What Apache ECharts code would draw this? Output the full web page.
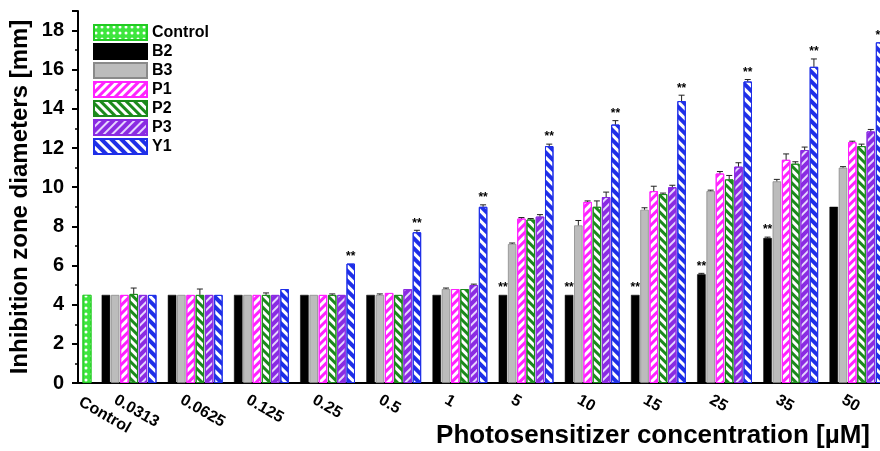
<!DOCTYPE html>
<html>
<head>
<meta charset="utf-8">
<script src="https://cdn.jsdelivr.net/npm/echarts@6/dist/echarts.min.js"></script>
<style>
html, body { margin: 0; padding: 0; background: #fff; }
#chart { width: 880px; height: 451px; }
</style>
</head>
<body>
<div id="chart"></div>
<script>
// concentrations (uM) of the treated groups; Control has its own tiny axis
var concentrations = ['0.0313', '0.0625', '0.125', '0.25', '0.5', '1', '5', '10', '15', '25', '35', '50'];
var controlLabel = ['Control'];
var controlValue = [4.5];

var b2 = [4.5, 4.5, 4.5, 4.5, 4.5, 4.5, 4.5, 4.5, 4.5, 5.55, 7.4, 9.0];
var b3 = [4.5, 4.5, 4.5, 4.5, 4.5, 4.8, 7.1, 8.05, 8.85, 9.8, 10.3, 11.0];
var p1 = [4.5, 4.5, 4.5, 4.5, 4.6, 4.8, 8.4, 9.25, 9.8, 10.7, 11.4, 12.3];
var p2 = [4.55, 4.5, 4.5, 4.5, 4.5, 4.8, 8.35, 9.0, 9.65, 10.4, 11.2, 12.1];
var p3 = [4.5, 4.5, 4.5, 4.5, 4.8, 5.0, 8.5, 9.5, 10.0, 11.05, 11.9, 12.85];
var y1 = [4.5, 4.5, 4.8, 6.1, 7.7, 9.0, 12.1, 13.2, 14.4, 15.4, 16.15, 17.4];

// standard deviations
var b2Err = [0, 0, 0, 0, 0, 0, 0, 0, 0, 0.05, 0.05, 0];
var b3Err = [0, 0, 0, 0, 0.05, 0.05, 0.05, 0.25, 0.1, 0.05, 0.1, 0.05];
var p1Err = [0, 0, 0, 0, 0, 0, 0.05, 0.05, 0.25, 0.1, 0.3, 0.05];
var p2Err = [0.3, 0.3, 0.1, 0.05, 0, 0, 0.05, 0.3, 0.05, 0.2, 0.1, 0.1];
var p3Err = [0, 0, 0, 0, 0, 0.05, 0.1, 0.25, 0.1, 0.2, 0.15, 0.1];
var y1Err = [0, 0, 0, 0, 0.1, 0.1, 0.1, 0.2, 0.3, 0.1, 0.4, 0];

// significance marks (indices into concentrations)
var b2Stars = [6, 7, 8, 9, 10];
var y1Stars = [3, 4, 5, 6, 7, 8, 9, 10, 11];

var FONT = 'Liberation Sans, Arial, sans-serif';
var BAR_W = 8.5, BAR_GAP = 0.09;
var PITCH = BAR_W * (1 + BAR_GAP);
var PX_PER_UNIT = 19.56;

var groups = [
    { name: 'B2', values: b2, err: b2Err, stars: b2Stars,
      style: { color: '#000', borderColor: '#000', borderWidth: 0.5 } },
    { name: 'B3', values: b3, err: b3Err, stars: [],
      style: { color: '#bcbcbc', borderColor: '#8a8a8a', borderWidth: 0.8 } },
    { name: 'P1', values: p1, err: p1Err, stars: [],
      style: { color: '#fff', borderColor: '#ff22ff', borderWidth: 1,
               decal: { symbol: 'rect', color: '#ff22ff', dashArrayX: [1, 0], dashArrayY: [3, 3], rotation: -Math.PI / 4 } } },
    { name: 'P2', values: p2, err: p2Err, stars: [],
      style: { color: '#fff', borderColor: '#1c8a1c', borderWidth: 1,
               decal: { symbol: 'rect', color: '#1c8a1c', dashArrayX: [1, 0], dashArrayY: [3, 3], rotation: Math.PI / 4 } } },
    { name: 'P3', values: p3, err: p3Err, stars: [],
      style: { color: '#e6d6ff', borderColor: '#8a2be2', borderWidth: 1,
               decal: { symbol: 'rect', color: '#8a2be2', dashArrayX: [1, 0], dashArrayY: [4, 2], rotation: -Math.PI / 4 } } },
    { name: 'Y1', values: y1, err: y1Err, stars: y1Stars,
      style: { color: '#fff', borderColor: '#1f2fe8', borderWidth: 1,
               decal: { symbol: 'rect', color: '#1f2fe8', dashArrayX: [1, 0], dashArrayY: [3.5, 2.5], rotation: Math.PI / 4 } } }
];

var chart = echarts.init(document.getElementById('chart'));

var series = [{
    name: 'Control',
    type: 'bar',
    xAxisIndex: 0,
    yAxisIndex: 0,
    barWidth: 9,
    data: controlValue,
    itemStyle: {
        color: '#3ee63e',
        borderColor: '#22cc22',
        borderWidth: 0.8,
        decal: { symbol: 'circle', color: '#ffffff', symbolSize: 0.75, dashArrayX: [4, 1.5], dashArrayY: [4, 1.5] }
    }
}];

var errData = [];
groups.forEach(function (g, s) {
    var data = g.values.map(function (v, i) {
        if (g.err[i] > 0) errData.push([i, s, v, g.err[i]]);
        if (g.stars.indexOf(i) > -1) {
            return {
                value: v,
                label: {
                    show: true, position: 'top', formatter: '**',
                    distance: 1 + g.err[i] * PX_PER_UNIT,
                    color: '#000', fontSize: 12, fontWeight: 'bold', fontFamily: FONT
                }
            };
        }
        return v;
    });
    series.push({
        name: g.name,
        type: 'bar',
        xAxisIndex: 1,
        yAxisIndex: 1,
        barWidth: BAR_W,
        barGap: (BAR_GAP * 100) + '%',
        data: data,
        itemStyle: g.style
    });
});

series.push({
    type: 'custom',
    xAxisIndex: 1,
    yAxisIndex: 1,
    encode: { x: 0, y: 2 },
    z: 5,
    silent: true,
    data: errData,
    renderItem: function (params, api) {
        var cat = api.value(0), s = api.value(1), v = api.value(2), e = api.value(3);
        var base = api.coord([cat, v]);
        var top = api.coord([cat, v + e]);
        var x = base[0] + (s - 2.5) * PITCH;
        return {
            type: 'group',
            children: [
                { type: 'line', shape: { x1: x, y1: base[1], x2: x, y2: top[1] }, style: { stroke: '#222', lineWidth: 1 } },
                { type: 'line', shape: { x1: x - 3, y1: top[1], x2: x + 3, y2: top[1] }, style: { stroke: '#222', lineWidth: 1 } }
            ]
        };
    }
});

function xLabel(shift, margin) {
    return {
        rotate: -30,
        margin: margin,
        padding: [0, 0, 0, shift],
        color: '#000',
        fontSize: 16,
        fontWeight: 'bold',
        fontFamily: FONT,
        interval: 0
    };
}

var yCommon = {
    type: 'value',
    min: 0,
    max: 19,
    interval: 2,
    splitLine: { show: false }
};

chart.setOption({
    backgroundColor: '#fff',
    animation: false,
    legend: {
        orient: 'vertical',
        left: 93,
        top: 24,
        padding: 0,
        itemWidth: 53,
        itemHeight: 15,
        itemGap: 2,
        icon: 'rect',
        data: ['Control', 'B2', 'B3', 'P1', 'P2', 'P3', 'Y1'],
        textStyle: { color: '#000', fontSize: 16, fontWeight: 'bold', fontFamily: FONT, lineHeight: 17 }
    },
    grid: [
        { left: 78, width: 18, top: 11, bottom: 68, outerBoundsMode: 'none' },
        { left: 96, width: 794, top: 11, bottom: 68, outerBoundsMode: 'none' }
    ],
    xAxis: [
        {
            type: 'category', gridIndex: 0, data: controlLabel,
            axisLine: { lineStyle: { color: '#000', width: 2 } },
            axisTick: { show: false },
            axisLabel: xLabel(-8, 22)
        },
        {
            type: 'category', gridIndex: 1, data: concentrations,
            axisLine: { lineStyle: { color: '#000', width: 2 } },
            axisTick: { show: false },
            axisLabel: xLabel(-16, 24)
        }
    ],
    yAxis: [
        Object.assign({}, yCommon, {
            gridIndex: 0,
            name: 'Inhibition zone diameters [mm]',
            nameLocation: 'middle',
            nameGap: 46,
            nameTextStyle: { color: '#000', fontSize: 24, fontWeight: 'bold', fontFamily: FONT },
            axisLine: { show: true, lineStyle: { color: '#000', width: 2 } },
            axisTick: { show: true, length: 6, lineStyle: { color: '#000', width: 2 } },
            minorTick: { show: true, splitNumber: 2, length: 3, lineStyle: { color: '#000', width: 1.5 } },
            axisLabel: {
                color: '#000', fontSize: 20, fontWeight: 'bold', fontFamily: FONT, margin: 14,
                formatter: function (v) { return v > 18 ? '' : v; }
            }
        }),
        Object.assign({}, yCommon, {
            gridIndex: 1,
            show: false
        })
    ],
    graphic: [{
        type: 'text',
        right: 10,
        top: 423,
        style: {
            text: 'Photosensitizer concentration [\u00b5M]',
            font: 'bold 26px ' + FONT,
            fill: '#000'
        }
    }],
    series: series
});
</script>
</body>
</html>
